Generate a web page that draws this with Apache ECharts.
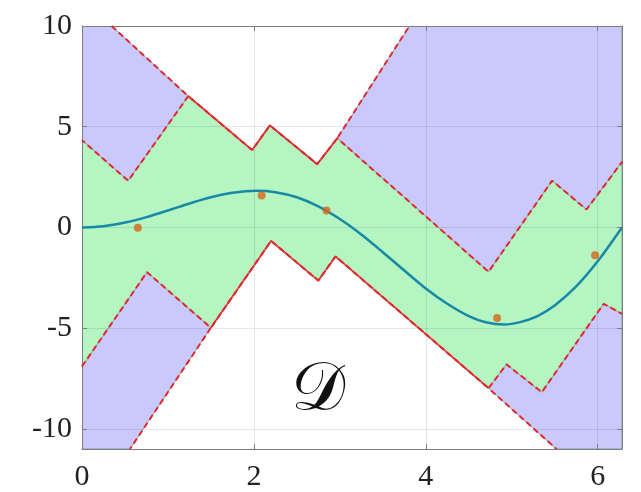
<!DOCTYPE html>
<html>
<head>
<meta charset="utf-8">
<script src="https://cdn.jsdelivr.net/npm/echarts@6/dist/echarts.min.js"></script>
<style>
  html, body { margin: 0; padding: 0; background: #ffffff; }
  #chart { width: 641px; height: 492px; }
</style>
</head>
<body>
<div id="chart"></div>
<script>
// Axis extents and tick positions
const X_MIN = 0;
const X_MAX = 6.2832;
const Y_MIN = -11;
const Y_MAX = 10;
const xTicks = [0, 2, 4, 6];
const yTicks = [-10, -5, 0, 5, 10];

// Underlying function f(x), sampled
const curveX = [0, 0.25, 0.5, 0.75, 1.0, 1.25, 1.5, 1.75, 2.03, 2.25, 2.5, 2.75, 3.0,
                3.25, 3.5, 3.75, 4.0, 4.25, 4.5, 4.7, 4.91, 5.1, 5.3, 5.5, 5.75, 6.0, 6.2832];
const curveY = [0, 0.06, 0.24, 0.51, 0.84, 1.19, 1.50, 1.72, 1.82, 1.75, 1.50, 1.05, 0.42,
                -0.35, -1.23, -2.14, -3.03, -3.79, -4.40, -4.71, -4.82, -4.70, -4.40, -3.88,
                -2.93, -1.68, 0];

// Noisy observations
const sampleX = [0.65, 2.09, 2.845, 4.83, 5.97];
const sampleY = [-0.02, 1.58, 0.84, -4.50, -1.38];

// Bound polylines [x, y]
const outerUpper = [[0.345, 10], [1.236, 6.52], [1.98, 3.84], [2.186, 5.07], [2.736, 3.14],
                    [2.97, 4.43], [3.81, 10]];
const innerUpper = [[0, 4.33], [0.538, 2.32], [1.236, 6.52], [1.98, 3.84], [2.186, 5.07],
                    [2.736, 3.14], [2.97, 4.43], [4.73, -2.2], [5.47, 2.32], [5.87, 0.89],
                    [6.2832, 3.25]];
const innerLower = [[0, -6.9], [0.756, -2.22], [1.5, -4.98], [2.2, -0.67], [2.75, -2.64],
                    [2.95, -1.44], [4.73, -7.98], [4.94, -6.8], [5.35, -8.18], [6.07, -3.79],
                    [6.2832, -4.29]];
const outerLower = [[0.558, -11], [1.5, -4.98], [2.2, -0.67], [2.75, -2.64], [2.95, -1.44],
                    [4.73, -7.98], [5.52, -11]];

// Region polygons: outer band (blue) and inner band (green) drawn on top
const outerBand = [[X_MIN, Y_MAX]].concat(outerUpper, [[X_MAX, Y_MAX], [X_MAX, Y_MIN]],
                   outerLower.slice().reverse(), [[X_MIN, Y_MIN]]);
const innerBand = innerUpper.concat(innerLower.slice().reverse());

const BLUE = '#c9c9fb';
const GREEN = '#b4f5c2';
const RED = '#e3262c';
const TEAL = '#1789a6';
const ORANGE = '#d5661b';
const AXIS_GRAY = '#7d7d7d';
const LABEL_FONT = '"Liberation Serif", "DejaVu Serif", serif';

const regions = [
  { pts: outerBand, fill: BLUE },
  { pts: innerBand, fill: GREEN }
];

function boundLine(data, offset) {
  return {
    type: 'line',
    data: data,
    z: 5,
    showSymbol: false,
    symbol: 'none',
    silent: true,
    clip: true,
    lineStyle: { color: RED, width: 2, type: [6, 3.5], dashOffset: offset }
  };
}

const chart = echarts.init(document.getElementById('chart'), null, { renderer: 'canvas' });

const xAxisBase = {
  type: 'value', min: X_MIN, max: X_MAX, z: 4,
  axisLine: { show: true, onZero: false, lineStyle: { color: AXIS_GRAY, width: 1 } },
  axisTick: { show: true, inside: true, length: 5, customValues: xTicks,
              lineStyle: { color: AXIS_GRAY, width: 1 } }
};
const yAxisBase = {
  type: 'value', min: Y_MIN, max: Y_MAX, z: 4,
  axisLine: { show: true, onZero: false, lineStyle: { color: AXIS_GRAY, width: 1 } },
  axisTick: { show: true, inside: true, length: 5, customValues: yTicks,
              lineStyle: { color: AXIS_GRAY, width: 1 } }
};

chart.setOption({
  animation: false,
  backgroundColor: '#ffffff',
  grid: { left: 82, right: 19, top: 26, bottom: 40, containLabel: false },
  xAxis: [
    Object.assign({}, xAxisBase, {
      position: 'bottom',
      splitLine: { show: true, lineStyle: { color: 'rgba(0,0,0,0.09)', width: 1 } },
      axisLabel: { show: true, customValues: xTicks, margin: 13, fontSize: 30,
                   fontFamily: LABEL_FONT, color: '#222222' }
    }),
    Object.assign({}, xAxisBase, {
      position: 'top',
      splitLine: { show: false },
      axisLabel: { show: false }
    })
  ],
  yAxis: [
    Object.assign({}, yAxisBase, {
      position: 'left',
      splitLine: { show: true, lineStyle: { color: 'rgba(0,0,0,0.09)', width: 1 } },
      axisLabel: { show: true, customValues: yTicks, margin: 10, fontSize: 30,
                   fontFamily: LABEL_FONT, color: '#222222' }
    }),
    Object.assign({}, yAxisBase, {
      position: 'right',
      splitLine: { show: false },
      axisLabel: { show: false }
    })
  ],
  series: [
    {
      type: 'custom',
      z: 1,
      silent: true,
      clip: true,
      data: regions.map((r, i) => [i, 0]),
      renderItem: function (params, api) {
        const region = regions[params.dataIndex];
        const points = region.pts.map(p => api.coord(p));
        return {
          type: 'polygon',
          shape: { points: points },
          style: { fill: region.fill, stroke: 'rgba(70,110,110,0.55)', lineWidth: 1 }
        };
      }
    },
    boundLine(outerUpper, 0),
    boundLine(innerUpper, 2),
    boundLine(innerLower, 0),
    boundLine(outerLower, 3),
    {
      type: 'line',
      z: 6,
      data: curveX.map((x, i) => [x, curveY[i]]),
      smooth: 0.3,
      showSymbol: false,
      symbol: 'none',
      lineStyle: { color: TEAL, width: 2.5 }
    },
    {
      type: 'scatter',
      z: 7,
      data: sampleX.map((x, i) => [x, sampleY[i]]),
      symbolSize: 8,
      itemStyle: { color: ORANGE }
    },
    {
      type: 'custom',
      z: 7,
      silent: true,
      data: [[2.744, -8.2]],
      renderItem: function (params, api) {
        const c = api.coord([api.value(0), api.value(1)]);
        return {
          type: 'text',
          x: c[0], y: c[1],
          style: {
            text: '\u{1D49F}',
            fontSize: 68,
            fontFamily: '"DejaVu Serif", "DejaVu Sans", "Noto Sans", serif',
            fill: '#111111',
            align: 'center',
            verticalAlign: 'middle'
          }
        };
      }
    }
  ]
});
</script>
</body>
</html>
